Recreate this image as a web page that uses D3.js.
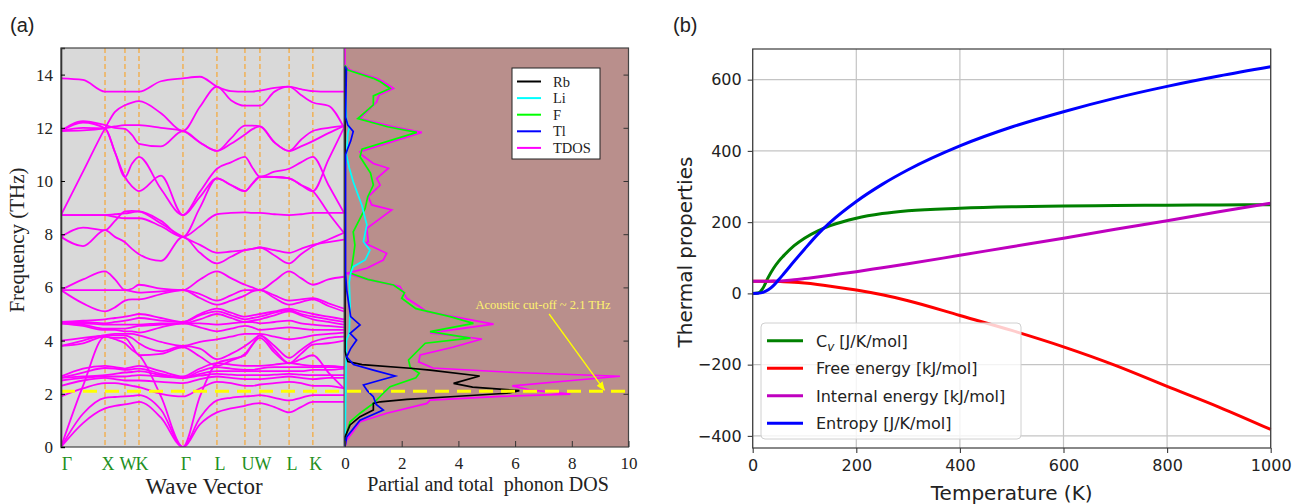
<!doctype html>
<meta charset="utf-8">
<title>Phonon bands, DOS and thermal properties</title>
<style>
body { margin: 0; background: #fff; }
svg { display: block; }
</style>

<svg id="visual" width="1293" height="504"></svg>

<script src="https://cdn.jsdelivr.net/npm/d3@7"></script>
<script>

// (a) band structure: high-symmetry path, one value per point and per segment middle
var kLabels = ["Γ", "X", "W", "K", "Γ", "L", "U", "W", "L", "K"];
var kPos = [0, 0.1555, 0.226, 0.2756, 0.431, 0.551, 0.650, 0.703, 0.806, 0.890, 1.0];

var bands = [
	[13.86, 13.8, 13.36, 13.36, 13.36, 13.36, 13.36, 13.75, 13.86, 13.92, 13.55, 13.38, 13.36, 13.36, 13.4, 13.5, 13.55, 13.45, 13.38, 13.36, 13.36],
	[8.72, 10.35, 11.98, 12.6, 12.85, 12.95, 13.0, 12.55, 11.88, 12.79, 13.55, 13.04, 12.83, 12.83, 12.83, 13.36, 13.55, 13.23, 12.95, 12.83, 12.0],
	[11.88, 12.25, 12.1, 12.0, 11.96, 11.73, 11.4, 11.3, 11.88, 11.45, 11.13, 11.6, 12.08, 12.08, 12.05, 11.45, 11.13, 11.55, 11.88, 12.0, 12.07],
	[11.88, 11.9, 11.98, 12.05, 12.1, 12.1, 12.1, 12.0, 11.88, 11.45, 11.13, 11.4, 11.75, 11.95, 12.05, 11.45, 11.13, 11.3, 11.5, 11.8, 12.07],
	[11.88, 12.2, 11.98, 11.08, 10.15, 10.65, 10.91, 9.7, 8.72, 9.6, 10.46, 10.7, 10.91, 10.5, 10.16, 10.35, 10.46, 10.7, 10.91, 9.85, 8.8],
	[11.88, 12.0, 11.98, 11.08, 10.15, 9.8, 9.62, 10.2, 8.72, 9.4, 10.1, 9.85, 9.62, 9.9, 10.16, 10.15, 10.1, 9.85, 9.62, 10.8, 12.0],
	[8.72, 8.72, 8.72, 8.75, 8.78, 8.82, 8.86, 8.5, 7.9, 9.0, 10.1, 9.85, 9.62, 9.9, 10.16, 10.15, 10.1, 9.85, 9.62, 8.8, 8.05],
	[8.72, 8.72, 8.72, 8.65, 8.6, 8.6, 8.6, 8.3, 7.9, 8.3, 8.75, 8.8, 8.82, 8.8, 8.8, 8.75, 8.72, 8.75, 8.8, 8.8, 8.8],
	[7.9, 7.55, 8.15, 7.9, 7.7, 7.45, 7.25, 7.0, 7.9, 7.3, 6.9, 7.15, 7.4, 7.45, 7.5, 7.2, 6.9, 7.25, 7.55, 7.8, 8.05],
	[7.9, 8.25, 8.15, 8.5, 8.86, 8.88, 8.86, 8.4, 7.9, 7.6, 7.3, 7.35, 7.4, 7.45, 7.5, 7.4, 7.3, 7.45, 7.6, 7.7, 7.8],
	[5.9, 5.4, 5.1, 5.25, 5.5, 5.55, 5.55, 5.75, 5.9, 5.6, 5.35, 5.5, 5.7, 5.85, 5.9, 5.6, 5.35, 5.45, 5.55, 5.3, 5.1],
	[5.9, 6.3, 6.6, 6.3, 5.9, 5.95, 6.1, 5.95, 5.9, 6.3, 6.6, 6.35, 6.1, 6.0, 5.9, 6.25, 6.6, 6.35, 6.1, 6.3, 6.4],
	[5.9, 5.9, 5.9, 5.9, 5.9, 5.85, 5.8, 5.85, 5.9, 5.75, 5.5, 5.7, 5.9, 5.9, 5.9, 5.7, 5.5, 5.55, 5.6, 5.4, 5.2],
	[4.65, 4.55, 4.4, 4.4, 4.35, 4.35, 4.3, 4.5, 4.65, 4.5, 4.35, 4.45, 4.55, 4.5, 4.4, 4.45, 4.5, 4.45, 4.4, 4.4, 4.4],
	[4.65, 4.6, 4.45, 4.45, 4.45, 4.5, 4.55, 4.6, 4.65, 4.65, 4.6, 4.65, 4.7, 4.7, 4.65, 4.7, 4.75, 4.65, 4.6, 4.55, 4.5],
	[4.65, 4.65, 4.6, 4.6, 4.6, 4.6, 4.6, 4.65, 4.65, 4.8, 5.0, 4.85, 4.7, 4.75, 4.8, 4.95, 5.1, 4.95, 4.8, 4.7, 4.6],
	[4.7, 4.7, 4.65, 4.7, 4.75, 4.8, 4.85, 4.75, 4.7, 4.95, 5.1, 4.95, 4.8, 4.85, 4.9, 5.05, 5.15, 5.0, 4.9, 4.8, 4.7],
	[4.7, 4.75, 4.8, 4.85, 4.9, 4.95, 5.0, 4.85, 4.7, 5.0, 5.2, 5.05, 4.9, 4.95, 5.0, 5.1, 5.2, 5.1, 5.0, 4.9, 4.8],
	[3.8, 3.9, 4.15, 4.1, 4.1, 3.8, 3.45, 3.5, 3.75, 3.4, 3.05, 3.25, 3.5, 3.85, 4.1, 3.55, 3.15, 3.5, 3.85, 3.9, 4.0],
	[3.8, 4.0, 4.2, 4.2, 4.2, 4.1, 3.9, 3.6, 3.8, 3.7, 3.3, 3.5, 3.8, 4.0, 4.2, 3.8, 3.35, 3.65, 3.95, 4.1, 4.15],
	[4.0, 4.1, 4.2, 4.25, 4.25, 4.25, 4.2, 3.95, 3.8, 3.95, 4.05, 4.15, 4.25, 4.25, 4.25, 4.15, 4.05, 4.1, 4.2, 4.25, 4.3],
	[2.65, 2.95, 3.05, 3.0, 2.95, 3.0, 3.05, 2.85, 2.65, 2.95, 3.15, 3.1, 3.05, 3.05, 3.05, 3.1, 3.15, 3.1, 3.05, 3.05, 3.0],
	[2.6, 2.8, 2.97, 2.95, 2.9, 2.92, 2.95, 2.75, 2.6, 2.85, 3.0, 2.95, 2.9, 2.9, 2.95, 3.0, 3.0, 3.0, 3.0, 3.0, 3.0],
	[2.6, 2.65, 2.7, 2.75, 2.8, 2.82, 2.85, 2.7, 2.6, 2.75, 2.85, 2.85, 2.85, 2.85, 2.85, 2.85, 2.85, 2.85, 2.9, 2.9, 2.95],
	[2.5, 2.6, 2.65, 2.65, 2.65, 2.68, 2.7, 2.65, 2.6, 2.68, 2.75, 2.72, 2.7, 2.7, 2.7, 2.72, 2.75, 2.72, 2.7, 2.7, 2.7],
	[2.3, 2.5, 2.6, 2.55, 2.5, 2.5, 2.5, 2.45, 2.4, 2.55, 2.65, 2.6, 2.55, 2.55, 2.55, 2.6, 2.65, 2.6, 2.55, 2.6, 2.6],
	[1.9, 2.2, 2.4, 2.4, 2.35, 2.3, 2.25, 2.0, 1.9, 2.2, 2.45, 2.4, 2.3, 2.3, 2.35, 2.4, 2.45, 2.4, 2.3, 2.3, 2.2],
	[0, 2.3, 4.15, 4.05, 3.9, 3.65, 3.46, 1.9, 0, 1.9, 3.15, 3.3, 3.45, 3.85, 4.2, 3.65, 3.15, 3.3, 3.45, 2.8, 2.2],
	[0, 1.25, 1.85, 1.88, 1.9, 1.92, 1.95, 1.4, 0, 1.1, 1.75, 1.85, 1.9, 1.92, 1.95, 1.85, 1.75, 1.85, 1.95, 1.95, 1.95],
	[0, 0.9, 1.45, 1.55, 1.6, 1.65, 1.7, 1.1, 0, 0.85, 1.3, 1.45, 1.55, 1.62, 1.65, 1.5, 1.3, 1.5, 1.7, 1.7, 1.7]
];

var cutoff = 2.1;

// (a) partial and total phonon DOS, [frequency THz, DOS]
var dosRb = [[0, 0], [0.38, 0], [0.83, 0.18], [1.14, 0.53], [1.39, 1.0], [1.64, 1.0], [1.7, 1.24], [1.79, 2.18], [1.89, 3.71], [2.02, 5.71], [2.12, 6.15], [2.25, 4.5], [2.39, 3.83], [2.67, 4.75], [2.89, 3.0], [2.96, 2.3], [3.1, 0.6], [3.21, 0.1], [3.39, 0.05], [3.6, 0], [14.3, 0]];
var dosLi = [[0, 0], [4.0, 0.05], [4.27, 0.15], [5.27, 0.18], [6.2, 0.15], [6.53, 0.2], [6.78, 0.29], [7.03, 0.71], [7.4, 0.88], [7.72, 0.65], [8.35, 0.77], [9.1, 0.59], [9.97, 0.29], [10.5, 0.15], [10.98, 0.05], [11.8, 0.1], [12.0, 0.15], [12.3, 0.05], [14.3, 0]];
var dosF = [[0, 0], [0.38, 0.02], [0.95, 0.18], [1.27, 0.53], [1.64, 1.0], [2.02, 1.35], [2.27, 1.59], [2.6, 2.5], [2.77, 2.62], [3.0, 2.3], [3.27, 2.24], [3.9, 2.83], [4.09, 4.42], [4.34, 3.0], [4.65, 4.53], [4.9, 3.71], [5.2, 2.5], [5.59, 2.0], [5.8, 2.1], [6.09, 1.71], [6.3, 0.8], [6.53, 0.2], [6.78, 0.24], [7.2, 0.3], [7.59, 0.35], [8.09, 0.29], [8.97, 0.71], [9.4, 0.8], [9.85, 1.0], [10.3, 0.9], [10.91, 0.53], [11.2, 0.6], [11.83, 2.53], [12.04, 1.5], [12.35, 0.45], [12.86, 1.0], [13.2, 1.0], [13.48, 1.59], [13.73, 1.25], [13.86, 1.0], [14.17, 0.1], [14.35, 0]];
var dosTl = [[0, 0], [0.38, 0.06], [1.01, 0.53], [1.39, 1.35], [1.6, 1.1], [1.89, 1.0], [2.1, 0.8], [2.33, 0.65], [2.5, 1.2], [2.67, 1.77], [2.89, 1.0], [3.1, 0.3], [3.39, 0.06], [3.7, 0.2], [4.02, 0.41], [4.27, 0.18], [4.59, 0.53], [4.9, 0.2], [5.9, 0.06], [6.5, 0.02], [11.0, 0.02], [11.23, 0.1], [11.5, 0.2], [11.86, 0.29], [12.1, 0.1], [12.4, 0.02], [14.2, 0.05], [14.3, 0]];
var dosTotal = [[0, 0], [0.26, 0.06], [0.6, 0.3], [0.95, 0.53], [1.27, 1.47], [1.64, 2.89], [1.76, 3.0], [1.9, 5.5], [1.99, 7.95], [2.15, 6.5], [2.3, 5.9], [2.5, 8.0], [2.66, 9.7], [2.8, 6.0], [2.97, 3.1], [3.2, 2.6], [3.46, 2.65], [3.75, 3.8], [4.06, 4.83], [4.29, 3.0], [4.62, 5.24], [5.09, 2.89], [5.3, 2.6], [5.59, 2.18], [6.03, 1.94], [6.3, 0.8], [6.53, 0.06], [6.72, 0.77], [7.03, 1.35], [7.28, 1.47], [7.66, 0.71], [7.72, 0.82], [8.22, 0.77], [8.91, 1.65], [9.1, 0.94], [9.41, 0.82], [9.85, 1.24], [10.1, 1.12], [10.48, 1.53], [10.66, 1.0], [10.98, 0.59], [11.1, 0.53], [11.83, 2.71], [12.04, 1.71], [12.35, 0.53], [12.98, 1.12], [13.23, 1.2], [13.48, 1.71], [13.73, 1.35], [13.86, 1.12], [14.17, 0.18], [14.35, 0], [15, 0]];

var dosSeries = [
	{name: "Rb", color: "#000000", data: dosRb},
	{name: "Li", color: "#00ffff", data: dosLi},
	{name: "F", color: "#00ff00", data: dosF},
	{name: "Tl", color: "#0000ff", data: dosTl},
	{name: "TDOS", color: "#ff00ff", data: dosTotal}
];

// (b) thermal properties
var temps = [0, 10, 20, 30, 40, 50, 60, 80, 100, 125, 150, 200, 250, 300, 400, 500, 600, 700, 800, 900, 1000];
var cv = [0, 1, 15, 45, 70, 90, 106, 134, 155, 175, 190, 211, 224, 232, 239, 243, 245, 246.5, 247.5, 248.3, 249];
var freeEnergy = [34, 34, 34, 34, 33.8, 33.5, 33, 31.5, 29, 25, 20.3, 9.4, -4, -20.5, -62, -104, -150, -202, -261, -319, -382];
var internalEnergy = [34, 34, 34, 34.2, 34.5, 35, 35.8, 38, 41.5, 46, 51, 61, 72, 83, 107, 131, 155, 180, 204, 229, 253];
var entropy = [0, 0.5, 3, 10, 22, 38, 55, 90, 124, 165, 200, 258, 306, 347, 414, 467, 510, 548, 581, 610, 636];

var thermoSeries = [
	{label: "Cv", unit: " [J/K/mol]", color: "#008000", values: cv},
	{label: "Free energy [kJ/mol]", color: "#ff0000", values: freeEnergy},
	{label: "Internal energy [kJ/mol]", color: "#bf00bf", values: internalEnergy},
	{label: "Entropy [J/K/mol]", color: "#0000ff", values: entropy}
];

var serif = "'Liberation Serif', 'Times New Roman', serif";
var sans = "'DejaVu Sans', sans-serif";

var svg = d3.select("#visual");

// ---------- panel (a) ----------
var xK = d3.scaleLinear().domain([0, 1]).range([61, 344]);
var yF = d3.scaleLinear().domain([0, 15]).range([447, 48]);
var xD = d3.scaleLinear().domain([0, 10]).range([345, 628.5]);

// sample positions: every high-symmetry point and every segment middle
var kSamples = [];
kPos.forEach(function(k, i) {
	kSamples.push(k);
	if (i < kPos.length - 1) kSamples.push((k + kPos[i + 1]) / 2);
});

var defs = svg.append("defs");
defs.append("clipPath").attr("id", "clipBands").append("rect")
	.attr("x", xK(0)).attr("y", yF(15)).attr("width", xK(1) - xK(0)).attr("height", yF(0) - yF(15));
defs.append("clipPath").attr("id", "clipDos").append("rect")
	.attr("x", xK(1)).attr("y", yF(15)).attr("width", xD(10) - xK(1) + 1).attr("height", yF(0) - yF(15));
defs.append("marker").attr("id", "arrowHead")
	.attr("viewBox", "0 0 10 10").attr("refX", 9).attr("refY", 5)
	.attr("markerWidth", 7).attr("markerHeight", 7).attr("orient", "auto")
	.append("path").attr("d", "M0,1 L10,5 L0,9 z").attr("fill", "#ffff00");

svg.append("rect")
	.attr("x", xK(0)).attr("y", yF(15))
	.attr("width", xK(1) - xK(0)).attr("height", yF(0) - yF(15))
	.attr("fill", "#d9d9d9");
svg.append("rect")
	.attr("x", xK(1)).attr("y", yF(15))
	.attr("width", xD(10) - xK(1)).attr("height", yF(0) - yF(15))
	.attr("fill", "#b98f8c");

// high-symmetry lines
svg.append("g").selectAll("line")
	.data(kPos.slice(1, kPos.length - 1))
	.enter().append("line")
	.attr("x1", function(d) { return xK(d); })
	.attr("x2", function(d) { return xK(d); })
	.attr("y1", yF(15)).attr("y2", yF(0))
	.attr("stroke", "#f6a735").attr("stroke-width", 1.2)
	.attr("stroke-dasharray", "5,3");

var bandLine = d3.line()
	.x(function(d, i) { return xK(kSamples[i]); })
	.y(function(d) { return yF(d); })
	.curve(d3.curveMonotoneX);

svg.append("g").attr("clip-path", "url(#clipBands)")
	.selectAll("path")
	.data(bands)
	.enter().append("path")
	.attr("d", bandLine)
	.attr("fill", "none")
	.attr("stroke", "#ff00ff")
	.attr("stroke-width", 1.8);

var dosLine = d3.line()
	.x(function(d) { return xD(d[1]); })
	.y(function(d) { return yF(d[0]); });

var dosOrder = [4, 2, 1, 0, 3];
svg.append("g").attr("clip-path", "url(#clipDos)")
	.selectAll("path")
	.data(dosOrder.map(function(i) { return dosSeries[i]; }))
	.enter().append("path")
	.attr("d", function(d) { return dosLine(d.data); })
	.attr("fill", "none")
	.attr("stroke", function(d) { return d.color; })
	.attr("stroke-width", 1.7);

// acoustic cut-off
svg.append("line")
	.attr("x1", xK(0)).attr("x2", xD(10))
	.attr("y1", yF(cutoff)).attr("y2", yF(cutoff))
	.attr("stroke", "#ffff00").attr("stroke-width", 3)
	.attr("stroke-dasharray", "14,8");
svg.append("line")
	.attr("x1", xD(7.2)).attr("y1", yF(5.0))
	.attr("x2", xD(9.15)).attr("y2", yF(cutoff) - 1)
	.attr("stroke", "#ffff00").attr("stroke-width", 1.3)
	.attr("marker-end", "url(#arrowHead)");
svg.append("text")
	.attr("x", xD(4.6)).attr("y", yF(5.2))
	.attr("fill", "#fff36e")
	.attr("font-family", serif).attr("font-size", 12.5)
	.text("Acoustic cut-off ~ 2.1 THz");

// frames and axes
svg.append("rect")
	.attr("x", xK(0)).attr("y", yF(15))
	.attr("width", xD(10) - xK(0)).attr("height", yF(0) - yF(15))
	.attr("fill", "none").attr("stroke", "#444").attr("stroke-width", 1.2);
svg.append("line")
	.attr("x1", xK(1)).attr("x2", xK(1)).attr("y1", yF(15)).attr("y2", yF(0))
	.attr("stroke", "#555").attr("stroke-width", 1);

var axF = svg.append("g")
	.attr("transform", "translate(" + xK(0) + ",0)")
	.call(d3.axisLeft(yF).tickValues(d3.range(0, 15, 2)).tickSize(-4).tickPadding(8));
axF.select(".domain").attr("stroke", "#333").attr("stroke-width", 1.6);
axF.selectAll("text").attr("font-family", serif).attr("font-size", 17).attr("fill", "#222");

var axFr = svg.append("g")
	.attr("transform", "translate(" + xD(10) + ",0)")
	.call(d3.axisLeft(yF).tickValues(d3.range(2, 15, 2)).tickSize(5).tickFormat(""));
axFr.select(".domain").remove();
axFr.selectAll("line").attr("stroke", "#333");

var axD = svg.append("g")
	.attr("transform", "translate(0," + yF(0) + ")")
	.call(d3.axisBottom(xD).tickValues(d3.range(0, 11, 2)).tickSize(-6).tickPadding(10));
axD.select(".domain").remove();
axD.selectAll("line").attr("stroke", "#333");
axD.selectAll("text").attr("font-family", serif).attr("font-size", 17).attr("fill", "#222");

svg.append("g").selectAll("text")
	.data(kLabels)
	.enter().append("text")
	.attr("x", function(d, i) { return Math.max(xK(kPos[i]) + 3, 67); })
	.attr("y", 470)
	.attr("text-anchor", "middle")
	.attr("font-family", serif).attr("font-size", 18)
	.attr("fill", "#229022")
	.text(function(d) { return d; });

svg.append("text")
	.attr("transform", "translate(24,240) rotate(-90)")
	.attr("text-anchor", "middle")
	.attr("font-family", serif).attr("font-size", 21).attr("fill", "#222")
	.text("Frequency (THz)");
svg.append("text")
	.attr("x", 204).attr("y", 494)
	.attr("text-anchor", "middle")
	.attr("font-family", serif).attr("font-size", 23).attr("fill", "#222")
	.text("Wave Vector");
svg.append("text")
	.attr("x", 488).attr("y", 491)
	.attr("text-anchor", "middle")
	.style("white-space", "pre")
	.attr("font-family", serif).attr("font-size", 20).attr("fill", "#222")
	.text("Partial and total  phonon DOS");

// DOS legend
var lgA = svg.append("g").attr("transform", "translate(512,68)");
lgA.append("rect").attr("width", 88).attr("height", 91)
	.attr("fill", "#fff").attr("stroke", "#222").attr("stroke-width", 1);
var lgAItems = lgA.selectAll("g.item")
	.data(dosSeries)
	.enter().append("g")
	.attr("transform", function(d, i) { return "translate(0," + (13.5 + i * 16.6) + ")"; });
lgAItems.append("line")
	.attr("x1", 5).attr("x2", 29)
	.attr("stroke", function(d) { return d.color; }).attr("stroke-width", 2);
lgAItems.append("text")
	.attr("x", 41).attr("y", 5)
	.attr("font-family", serif).attr("font-size", 14.5).attr("fill", "#222")
	.text(function(d) { return d.name; });

svg.append("text")
	.attr("x", 10).attr("y", 32)
	.attr("font-family", "'Liberation Sans', Arial, sans-serif").attr("font-size", 20).attr("fill", "#222")
	.text("(a)");

// ---------- panel (b) ----------
var xT = d3.scaleLinear().domain([0, 1000]).range([752.7, 1270.7]);
var yP = d3.scaleLinear().domain([-434, 686]).range([448, 49]);
var xTicks = d3.range(0, 1001, 200);
var yTicks = d3.range(-400, 601, 200);

var gridB = svg.append("g");
gridB.selectAll("line.v")
	.data(xTicks)
	.enter().append("line")
	.attr("x1", function(d) { return xT(d); }).attr("x2", function(d) { return xT(d); })
	.attr("y1", yP.range()[1]).attr("y2", yP.range()[0])
	.attr("stroke", "#c4c4c4").attr("stroke-width", 1.2);
gridB.selectAll("line.h")
	.data(yTicks)
	.enter().append("line")
	.attr("x1", xT(0)).attr("x2", xT(1000))
	.attr("y1", function(d) { return yP(d); }).attr("y2", function(d) { return yP(d); })
	.attr("stroke", "#c4c4c4").attr("stroke-width", 1.2);

var thermoLine = d3.line()
	.x(function(d, i) { return xT(temps[i]); })
	.y(function(d) { return yP(d); })
	.curve(d3.curveMonotoneX);

svg.append("g").selectAll("path")
	.data(thermoSeries)
	.enter().append("path")
	.attr("d", function(d) { return thermoLine(d.values); })
	.attr("fill", "none")
	.attr("stroke", function(d) { return d.color; })
	.attr("stroke-width", 3);

svg.append("rect")
	.attr("x", xT(0)).attr("y", yP.range()[1])
	.attr("width", xT(1000) - xT(0)).attr("height", yP.range()[0] - yP.range()[1])
	.attr("fill", "none").attr("stroke", "#3a3a3a").attr("stroke-width", 1.2);

var axT = svg.append("g")
	.attr("transform", "translate(0," + yP.range()[0] + ")")
	.call(d3.axisBottom(xT).tickValues(xTicks).tickSize(5).tickPadding(7).tickFormat(d3.format("d")));
var axP = svg.append("g")
	.attr("transform", "translate(" + xT(0) + ",0)")
	.call(d3.axisLeft(yP).tickValues(yTicks).tickSize(5).tickPadding(6)
		.tickFormat(function(d) { return d < 0 ? "\u2212" + Math.abs(d) : d; }));
[axT, axP].forEach(function(ax) {
	ax.select(".domain").remove();
	ax.selectAll("line").attr("stroke", "#3a3a3a").attr("stroke-width", 1.1);
	ax.selectAll("text").attr("font-family", sans).attr("font-size", 16).attr("fill", "#222");
});

svg.append("text")
	.attr("transform", "translate(692,252) rotate(-90)")
	.attr("text-anchor", "middle")
	.attr("font-family", sans).attr("font-size", 20).attr("fill", "#222")
	.text("Thermal properties");
svg.append("text")
	.attr("x", xT(500)).attr("y", 500)
	.attr("text-anchor", "middle")
	.attr("font-family", sans).attr("font-size", 20).attr("fill", "#222")
	.text("Temperature (K)");

// thermal legend
var lgB = svg.append("g").attr("transform", "translate(761,323)");
lgB.append("rect").attr("width", 260).attr("height", 116).attr("rx", 4)
	.attr("fill", "#fff").attr("fill-opacity", 0.8)
	.attr("stroke", "#d0d0d0").attr("stroke-width", 1);
var lgBItems = lgB.selectAll("g.item")
	.data(thermoSeries)
	.enter().append("g")
	.attr("transform", function(d, i) { return "translate(0," + (17.7 + i * 27.5) + ")"; });
lgBItems.append("line")
	.attr("x1", 6).attr("x2", 42)
	.attr("stroke", function(d) { return d.color; }).attr("stroke-width", 3);
var lgBText = lgBItems.append("text")
	.attr("x", 55).attr("y", 6)
	.attr("font-family", sans).attr("font-size", 16).attr("fill", "#222");
lgBText.each(function(d) {
	var t = d3.select(this);
	if (d.unit) {
		t.append("tspan").text("C");
		t.append("tspan").attr("font-size", 12).attr("font-style", "italic").attr("dy", 4).text("v");
		t.append("tspan").attr("dy", -4).style("white-space", "pre").text(d.unit);
	} else {
		t.text(d.label);
	}
});

svg.append("text")
	.attr("x", 673).attr("y", 32)
	.attr("font-family", "'Liberation Sans', Arial, sans-serif").attr("font-size", 20).attr("fill", "#222")
	.text("(b)");

</script>
